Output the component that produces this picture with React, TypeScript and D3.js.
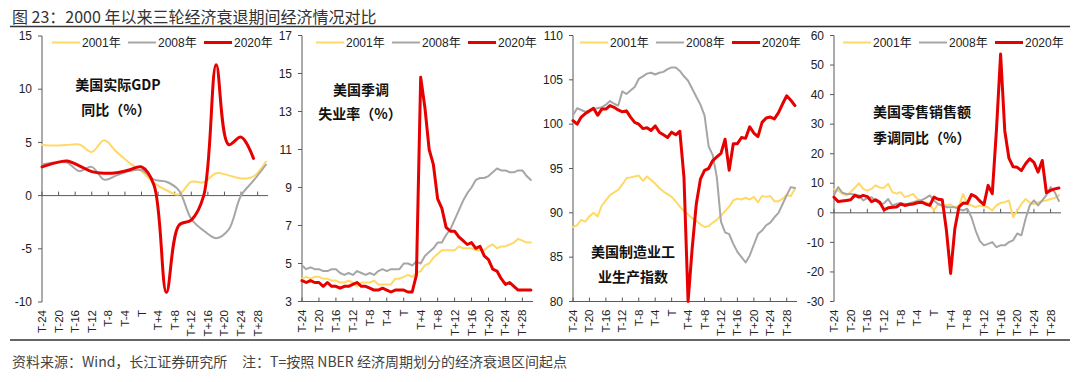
import React from 'react';
import * as d3 from 'd3';

// ---------- shared categories ----------
const monthIdx: number[] = d3.range(-24, 31);          // T-24 ... T+30 (monthly)
const quarterIdx: number[] = d3.range(-24, 31, 3);     // quarterly points
const xTicks: number[] = d3.range(-24, 29, 4);
const xTickLabels: string[] = xTicks.map(t => (t === 0 ? 'T' : t < 0 ? `T${t}` : `T+${t}`));
const seriesNames = ['2001年', '2008年', '2020年'];

// ---------- panel 1: real GDP YoY (%) quarterly ----------
const gdp2001 = [4.75, 4.7, 4.75, 4.8, 4.1, 5.2, 4.1, 3.1, 2.3, 1.2, 0.5, 0.1, 1.3, 1.25, 2.1, 1.9, 1.6, 1.8, 3.2];
const gdp2008 = [2.9, 3.1, 3.1, 2.3, 2.7, 1.5, 1.9, 2.3, 2.4, 1.5, 1.3, 0.5, -2.2, -3.3, -4.0, -3.2, 0.0, 1.4, 2.9];
const gdp2020 = [2.7, 3.05, 3.25, 2.8, 2.25, 2.1, 2.15, 2.4, 2.7, 1.0, -9.1, -2.8, -2.3, 0.0, 12.3, 4.8, 5.5, 3.5];
const gdpTicks = [-10, -5, 0, 5, 10, 15];

// ---------- panel 2: unemployment rate (%) monthly ----------
const un2001 = [4.2, 4.3, 4.2, 4.3, 4.3, 4.2, 4.2, 4.1, 4.1, 4.0,
  4.0, 4.1, 4.0, 3.8, 4.0, 4.0, 4.0, 4.1, 3.9, 3.9, 3.9, 3.9,
  4.2, 4.2, 4.3, 4.4, 4.3, 4.5, 4.6, 4.9, 5.0, 5.3, 5.5, 5.7,
  5.7, 5.7, 5.7, 5.9, 5.8, 5.8, 5.8, 5.7, 5.7, 5.7, 5.9, 6.0,
  5.8, 5.9, 5.9, 6.0, 6.1, 6.3, 6.2, 6.1, 6.1];
const un2008 = [4.9,
  4.7, 4.8, 4.7, 4.7, 4.6, 4.6, 4.7, 4.7, 4.5, 4.4, 4.5, 4.4,
  4.6, 4.5, 4.4, 4.5, 4.4, 4.6, 4.7, 4.6, 4.7, 4.7, 4.7, 5.0,
  5.0, 4.9, 5.1, 5.0, 5.4, 5.6, 5.8, 6.1, 6.1, 6.5, 6.8, 7.3,
  7.8, 8.3, 8.7, 9.0, 9.4, 9.5, 9.5, 9.6, 9.8, 10.0, 9.9, 9.9,
  9.8, 9.8, 9.9, 9.9, 9.6, 9.4];
const un2020 = [4.1,
  4.0, 4.1, 4.0, 4.0, 3.8, 4.0, 3.8, 3.8, 3.7, 3.8, 3.8, 3.9,
  4.0, 3.8, 3.8, 3.7, 3.6, 3.6, 3.7, 3.6, 3.5, 3.6, 3.6, 3.6,
  3.5, 3.5, 4.4, 14.8, 13.2, 11.0, 10.2, 8.4, 7.9, 6.9, 6.7, 6.7,
  6.4, 6.2, 6.0, 6.1, 5.8, 5.9, 5.4, 5.2, 4.7, 4.6, 4.2, 3.9,
  4.0, 3.8, 3.6, 3.6, 3.6, 3.6];
const unTicks = [3, 5, 7, 9, 11, 13, 15, 17];

// ---------- panel 3: manufacturing industrial production index ----------
const ip2001 = [88.4, 88.6, 89.2, 89.0, 89.6, 90.0, 89.6, 90.8, 91.4, 92.0, 92.3, 92.6, 93.2, 93.9, 94.0, 94.1, 94.2, 93.6, 94.1, 93.7, 93.3, 92.8, 92.4, 92.1,
  91.8, 91.3, 90.7, 90.2, 89.8, 89.4, 89.1, 88.7, 88.4, 88.5, 88.9, 89.2, 89.7, 90.2, 90.7, 91.4, 91.6, 91.5, 91.7, 91.5, 91.8, 91.2, 91.9, 91.8, 91.9, 91.3, 91.3, 91.6, 92.0, 91.9, 92.7];
const ip2008 = [101.0, 101.8, 101.6, 101.4, 101.5, 101.7, 101.8, 101.9, 102.2, 102.6, 102.3, 102.1, 103.7, 103.4, 103.8, 104.2, 105.1, 105.4, 105.7, 105.8, 105.6, 105.8, 105.9, 106.2,
  106.4, 106.4, 106.0, 105.4, 104.9, 104.0, 103.1, 102.2, 101.0, 97.5, 96.5, 94.0, 89.0, 87.8, 87.6, 86.5, 85.6, 85.0, 84.4, 85.2, 86.4, 87.6, 88.0, 88.6, 88.9, 89.5, 90.0, 91.0, 92.0, 92.9, 92.8];
const ip2020 = [100.4, 100.0, 100.8, 101.2, 101.5, 101.8, 101.0, 101.7, 101.7, 102.1, 101.9, 101.6, 101.4, 101.5, 100.8, 100.2, 100.0, 99.5, 99.6, 99.3, 99.8, 99.1, 98.8, 98.5,
  99.1, 98.8, 99.2, 94.0, 80.0, 86.0, 91.0, 93.8, 94.8, 95.0, 95.9, 96.3, 96.7, 98.3, 94.8, 97.8, 97.8, 98.5, 98.4, 99.7, 99.0, 98.6, 100.2, 100.7, 100.8, 100.6, 101.3, 102.3, 103.2, 102.7, 102.1];
const ipTicks = [80, 85, 90, 95, 100, 105, 110];

// ---------- panel 4: retail sales YoY (%) ----------
const rs2001 = [8.0, 7.5, 6.5, 5.9, 7.0, 8.5, 10.0, 8.1, 7.5, 8.1, 9.3, 8.5, 8.5, 9.8, 7.0, 6.5, 7.0, 5.3, 5.8, 6.4, 4.7, 4.0, 3.6, 3.0,
  0.8, 3.0, 2.2, 2.6, 2.8, 1.9, 2.2, 6.4, 3.0, 2.5, 1.9, 2.5, 2.2, 1.9, 0.8, 2.5, 3.4, 3.6, 4.2, -1.5, 0.8, 3.0, 4.7, 3.5, 3.0, 3.6, 4.0, 4.2, 4.7, 5.0, 6.0];
const rs2008 = [5.9, 8.7, 6.8, 6.4, 6.4, 6.2, 5.9, 4.2, 5.0, 5.3, 4.2, 3.0, 3.2, 4.7, 2.5, 3.0, 3.3, 3.0, 3.2, 3.6, 4.0, 4.3, 5.0, 5.9,
  4.2, 3.0, 2.5, 1.9, 1.9, 1.9, 1.2, 0.8, 1.4, -1.5, -6.0, -9.5, -11.0, -10.5, -9.9, -11.6, -11.0, -11.0, -9.9, -9.3, -7.0, -7.6, -2.0, 2.5, 4.2, 2.5, 4.2, 6.0, 8.7, 7.0, 4.0];
const rs2020 = [5.3, 3.8, 4.0, 4.2, 4.4, 5.9, 5.3, 5.9, 5.5, 3.8, 4.4, 3.6, 1.0, 1.7, 1.9, 2.0, 3.0, 2.5, 2.8, 3.0, 3.4, 3.6, 3.0, 2.5,
  5.3, 4.6, 4.4, -6.0, -20.5, -5.5, 2.0, 3.3, 3.2, 6.2, 5.5, 4.0, 2.8, 9.3, 6.5, 28.0, 53.7, 27.8, 18.5, 15.6, 15.4, 14.3, 16.6, 18.3, 17.1, 13.8, 17.7, 6.8, 7.6, 8.1, 8.4];
const rsTicks = [-30, -20, -10, 0, 10, 20, 30, 40, 50, 60];

// ---------- styles ----------
const COLORS = ['#FFD966', '#A6A6A6', '#E60000'];
const WIDTHS = [2, 2, 3];
const FONT = '"Liberation Sans", Arial, "Noto Sans CJK SC", sans-serif';
const CJK = '"Noto Sans CJK SC", "Liberation Sans", sans-serif';
const TEXT = '#222';
const AXIS = '#595959';

type Note = { text: string; x: number; y: number; anchor: 'start' | 'middle' | 'end' };
type PanelCfg = {
  left: number; right: number; top: number; bottom: number;
  yTicks: number[]; xAxisAt: number;
  xs: number[][]; values: number[][]; smooth: boolean;
  legendX: number; notes: Note[];
};

const panels: PanelCfg[] = [
  {
    left: 42, right: 268, top: 36, bottom: 302, yTicks: gdpTicks, xAxisAt: 0,
    xs: [quarterIdx, quarterIdx, quarterIdx.slice(0, gdp2020.length)],
    values: [gdp2001, gdp2008, gdp2020], smooth: true, legendX: 52,
    notes: [
      { text: '美国实际GDP', x: 118, y: 85, anchor: 'middle' },
      { text: '同比（%）', x: 116, y: 110, anchor: 'middle' },
    ],
  },
  {
    left: 302, right: 533, top: 35.5, bottom: 301.5, yTicks: unTicks, xAxisAt: 3,
    xs: [monthIdx, monthIdx, monthIdx], values: [un2001, un2008, un2020], smooth: false, legendX: 316,
    notes: [
      { text: '美国季调', x: 361, y: 90, anchor: 'middle' },
      { text: '失业率（%）', x: 360, y: 114, anchor: 'middle' },
    ],
  },
  {
    left: 573, right: 797, top: 35.5, bottom: 301.5, yTicks: ipTicks, xAxisAt: 80,
    xs: [monthIdx, monthIdx, monthIdx], values: [ip2001, ip2008, ip2020], smooth: false, legendX: 580,
    notes: [
      { text: '美国制造业工', x: 633, y: 252, anchor: 'middle' },
      { text: '业生产指数', x: 633, y: 277, anchor: 'middle' },
    ],
  },
  {
    left: 834, right: 1061, top: 35.5, bottom: 301.5, yTicks: rsTicks, xAxisAt: 0,
    xs: [monthIdx, monthIdx, monthIdx], values: [rs2001, rs2008, rs2020], smooth: false, legendX: 843,
    notes: [
      { text: '美国零售销售额', x: 873, y: 112, anchor: 'start' },
      { text: '季调同比（%）', x: 873, y: 138, anchor: 'start' },
    ],
  },
];

function Panel({ cfg }: { cfg: PanelCfg }) {
  const yMin = cfg.yTicks[0];
  const yMax = cfg.yTicks[cfg.yTicks.length - 1];
  const x = d3.scaleLinear().domain([-24, 30.5]).range([cfg.left, cfg.right]);
  const y = d3.scaleLinear().domain([yMin, yMax]).range([cfg.bottom, cfg.top]);
  const axisY = y(cfg.xAxisAt);
  const line = d3.line<[number, number]>()
    .x(d => x(d[0]))
    .y(d => y(d[1]))
    .curve(cfg.smooth ? d3.curveCatmullRom.alpha(0.5) : d3.curveLinear);

  return (
    <g>
      {/* y axis */}
      <line x1={cfg.left} x2={cfg.left} y1={cfg.top} y2={cfg.bottom} stroke={AXIS} strokeWidth={1} />
      {cfg.yTicks.map(v => (
        <g key={v}>
          <line x1={cfg.left - 4} x2={cfg.left} y1={y(v)} y2={y(v)} stroke={AXIS} strokeWidth={1} />
          <text x={cfg.left - 10} y={y(v)} dy="0.35em" textAnchor="end" fontSize={12} fontFamily={FONT} fill={TEXT}>{v}</text>
        </g>
      ))}
      {/* x axis */}
      <line x1={cfg.left} x2={cfg.right} y1={axisY} y2={axisY} stroke={AXIS} strokeWidth={1} />
      {xTicks.map(t => (
        <line key={t} x1={x(t)} x2={x(t)} y1={axisY - 4} y2={axisY} stroke={AXIS} strokeWidth={1} />
      ))}
      {xTicks.map((t, i) => (
        <text key={t} transform={`translate(${x(t)},${cfg.bottom + 8}) rotate(-90)`} dy="0.35em" textAnchor="end"
          fontSize={11.5} fontFamily={FONT} fill={TEXT}>{xTickLabels[i]}</text>
      ))}
      {/* series */}
      {cfg.values.map((vals, si) => (
        <path key={si}
          d={line(vals.map((v, i) => [cfg.xs[si][i], v] as [number, number])) || ''}
          fill="none" stroke={COLORS[si]} strokeWidth={WIDTHS[si]} strokeLinejoin="round" strokeLinecap="round" />
      ))}
      {/* legend */}
      {seriesNames.map((name, i) => {
        const lx = cfg.legendX + i * 76;
        return (
          <g key={name}>
            <line x1={lx} x2={lx + 28} y1={42.5} y2={42.5} stroke={COLORS[i]} strokeWidth={WIDTHS[i]} />
            <text x={lx + 30} y={42.5} dy="0.35em" fontSize={12} fontFamily={FONT} fill={TEXT}>{name}</text>
          </g>
        );
      })}
      {/* notes */}
      {cfg.notes.map((n, i) => (
        <text key={i} x={n.x} y={n.y} dy="0.35em" textAnchor={n.anchor} fontSize={14} fontWeight={700}
          fontFamily={CJK} fill="#111">{n.text}</text>
      ))}
    </g>
  );
}

export default function App() {
  return (
    <svg width={1080} height={382} style={{ position: 'absolute', left: 0, top: 0, background: '#fff' }}>
      <rect width={1080} height={382} fill="#fff" />
      <text x={12} y={17} dy="0.35em" fontSize={16} fontFamily={CJK} fill="#333">图 23：2000 年以来三轮经济衰退期间经济情况对比</text>
      <line x1={10} x2={1070} y1={26.5} y2={26.5} stroke="#333" strokeWidth={1.5} />
      {panels.map((p, i) => <Panel key={i} cfg={p} />)}
      <line x1={10} x2={1070} y1={340} y2={340} stroke="#333" strokeWidth={1.5} />
      <text x={12} y={362} dy="0.35em" fontSize={14} fontFamily={CJK} fill="#444">资料来源：Wind，长江证券研究所</text>
      <text x={242} y={362} dy="0.35em" fontSize={14} fontFamily={CJK} fill="#444">注：T=按照 NBER 经济周期划分的经济衰退区间起点</text>
    </svg>
  );
}
